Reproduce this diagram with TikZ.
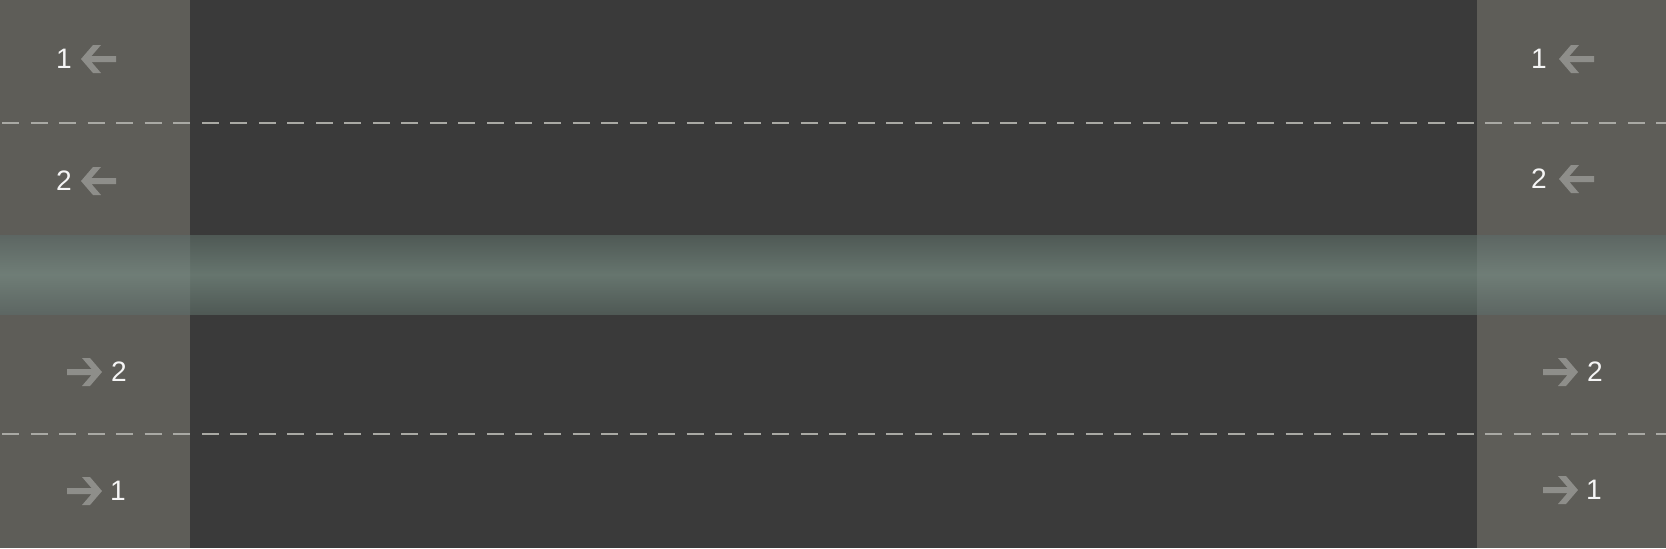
\documentclass[tikz,border=0pt]{standalone}
\usepackage{fontspec}
\setmainfont{Liberation Sans}
\definecolor{roadgray}{HTML}{3A3A3A}
\definecolor{padgray}{HTML}{5E5D58}
\definecolor{stripedge}{HTML}{4F5955}
\definecolor{stripmid}{HTML}{66756E}
\definecolor{dashgray}{HTML}{A9A9A4}
\definecolor{arrowgray}{HTML}{8E8E8A}
\tikzset{
  lanenum/.style={text=white!92!gray, font=\fontsize{8}{9}\selectfont, inner sep=0pt},
  laneline/.style={draw=dashgray, line width=0.55pt, dash pattern=on 4.84pt off 3.27pt, dash phase=-0.6pt},
  leftarrow/.pic={
    \fill[arrowgray] (-17.5,0) -- (-5.5,-14) -- (2.5,-14) -- (-7,-3) -- (17.5,-3)
      -- (17.5,3) -- (-7,3) -- (2.5,14) -- (-5.5,14) -- cycle;
  },
  rightarrow/.pic={
    \fill[arrowgray] (17.5,0) -- (5.5,-14) -- (-2.5,-14) -- (7,-3) -- (-17.5,-3)
      -- (-17.5,3) -- (7,3) -- (-2.5,14) -- (5.5,14) -- cycle;
  }
}

\begin{document}
\begin{tikzpicture}[x=0.01cm,y=-0.01cm]
\useasboundingbox (0,0) rectangle (1666,548);

% road and side pads
\fill[roadgray] (0,0) rectangle (1666,548);
\fill[padgray] (0,0) rectangle (190,548);
\fill[padgray] (1477,0) rectangle (1666,548);

% median strip
\shade[top color=stripedge, bottom color=stripedge, middle color=stripmid] (0,235) rectangle (1666,314);
\shade[top color=stripedge!92!white, bottom color=stripedge!92!white, middle color=stripmid!94!white] (0,235) rectangle (190,314);
\shade[top color=stripedge!92!white, bottom color=stripedge!92!white, middle color=stripmid!94!white] (1477,235) rectangle (1666,314);

% lane lines
\draw[laneline] (0,123) -- (1666,123);
\draw[laneline] (0,434) -- (1666,434);

% left side
\node[lanenum] (l1) at (64,59) {1};
\node[lanenum] (l2) at (64,181) {2};
\node[lanenum] (l3) at (119,372) {2};
\node[lanenum] (l4) at (118,491) {1};
\pic at (98.5,59) {leftarrow};
\pic at (98.5,181) {leftarrow};
\pic at (84.5,372) {rightarrow};
\pic at (84.5,491) {rightarrow};

% right side
\node[lanenum] (r1) at (1539,59) {1};
\node[lanenum] (r2) at (1539,179) {2};
\node[lanenum] (r3) at (1595,372) {2};
\node[lanenum] (r4) at (1594,490) {1};
\pic at (1576.5,59) {leftarrow};
\pic at (1576.5,179) {leftarrow};
\pic at (1560.5,372) {rightarrow};
\pic at (1560.5,490) {rightarrow};

\end{tikzpicture}
\end{document}
